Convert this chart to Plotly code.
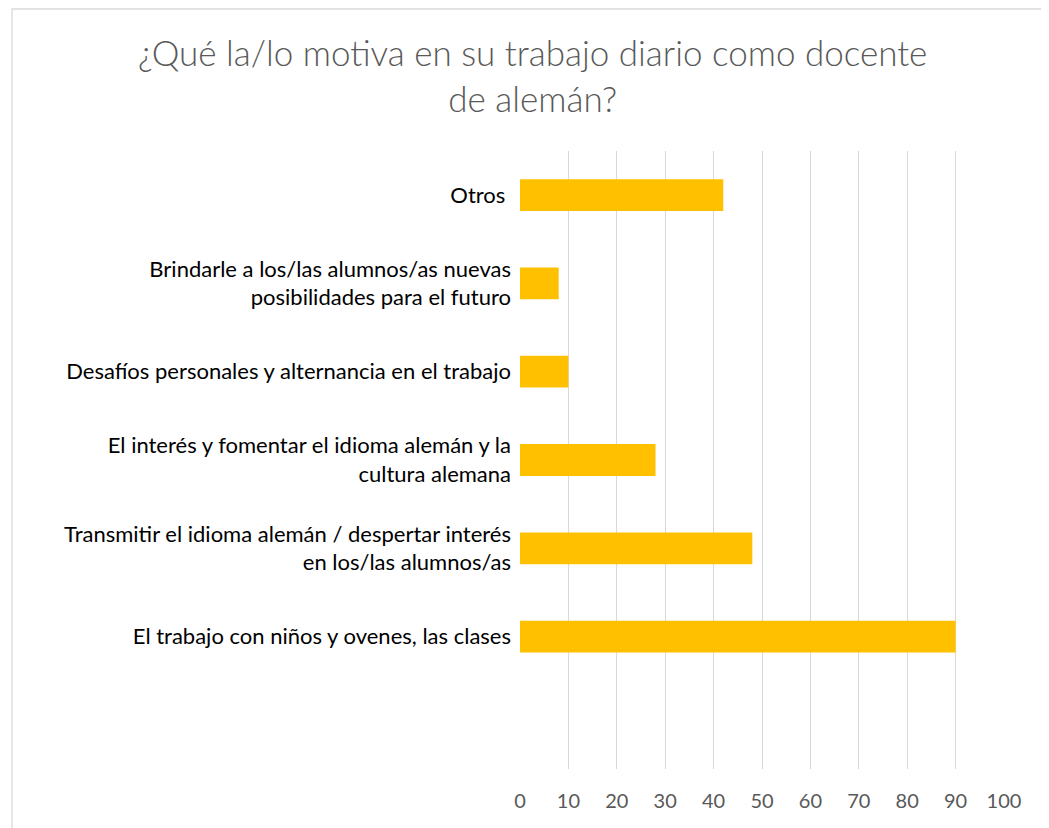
import plotly.graph_objects as go

# Categories listed bottom -> top
categories = [
    "El trabajo con niños y ovenes, las clases",
    "Transmitir el idioma alemán / despertar interés<br>en los/las alumnos/as",
    "El interés y fomentar el idioma alemán y la<br>cultura alemana",
    "Desafíos personales y alternancia en el trabajo",
    "Brindarle a los/las alumnos/as nuevas<br>posibilidades para el futuro",
    "Otros ",
]
values = [90, 48, 28, 10, 8, 42]
x_ticks = [0, 10, 20, 30, 40, 50, 60, 70, 80, 90, 100]
title_text = "¿Qué la/lo motiva en su trabajo diario como docente<br>de alemán?"

# page has an 8px body margin; the figure fills the rest of the window
W, H = 1041, 820
ml, mr, mt, mb = 512, 45, 143, 59
pw, ph = W - ml - mr, H - mt - mb

fig = go.Figure(
    go.Bar(
        x=values,
        y=categories,
        orientation="h",
        marker=dict(color="#FFC000", line=dict(width=0)),
        hoverinfo="x+y",
    )
)

fig.update_layout(
    width=W,
    height=H,
    margin=dict(l=ml, r=mr, t=mt, b=mb, autoexpand=False),
    paper_bgcolor="white",
    plot_bgcolor="white",
    bargap=0.64,
    showlegend=False,
    font=dict(family="Lato, Noto Sans, sans-serif", color="#000000", size=22),
    title=dict(
        text=title_text,
        x=0.504,
        xanchor="center",
        xref="container",
        y=0.929,
        yanchor="top",
        yref="container",
        font=dict(family="Lato, Noto Sans, sans-serif", size=35, color="#595959", weight=300),
    ),
    xaxis=dict(
        range=[0, 100],
        tickvals=x_ticks,
        ticktext=[str(v) for v in x_ticks],
        showgrid=True,
        gridcolor="#D9D9D9",
        gridwidth=1.3,
        zeroline=False,
        showline=False,
        ticks="",
        ticklabelstandoff=18,
        tickfont=dict(size=20, color="#595959"),
        fixedrange=True,
    ),
    yaxis=dict(
        type="category",
        categoryorder="array",
        categoryarray=categories,
        range=[-1.5, 5.5],
        showgrid=False,
        zeroline=False,
        showline=False,
        ticks="",
        ticklabelstandoff=8,
        tickfont=dict(size=22, color="#000000"),
        fixedrange=True,
    ),
    shapes=[
        dict(
            type="rect",
            xref="paper",
            yref="paper",
            x0=(4 - ml) / pw,
            x1=(W + 20 - ml) / pw,
            y0=-(mb + 20) / ph,
            y1=(H - mb - 1) / ph,
            line=dict(color="#D9D9D9", width=1.3),
            fillcolor="rgba(0,0,0,0)",
            layer="below",
        )
    ],
)

fig.write_html("out.html")
